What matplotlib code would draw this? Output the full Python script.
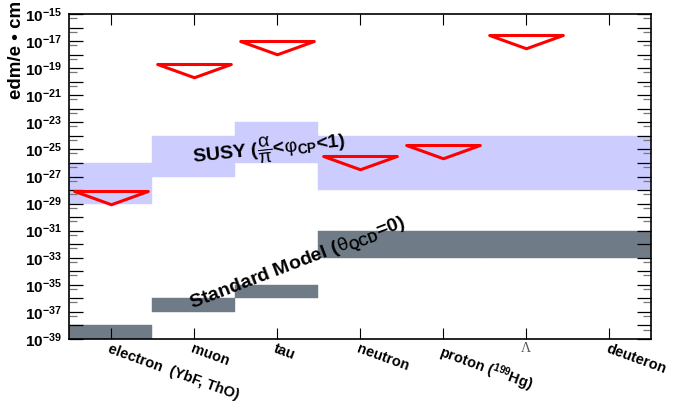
import numpy as np
import matplotlib
matplotlib.use("Agg")
import matplotlib.pyplot as plt
from matplotlib.path import Path
from matplotlib.markers import MarkerStyle
from matplotlib.ticker import FixedLocator, NullFormatter

plt.rcParams['font.family'] = ['Liberation Sans', 'DejaVu Sans']
plt.rcParams['mathtext.fontset'] = 'custom'
plt.rcParams['mathtext.rm'] = 'Liberation Sans'
plt.rcParams['mathtext.it'] = 'Liberation Sans:italic'
plt.rcParams['mathtext.bf'] = 'Liberation Sans:bold'

# data
categories = ['electron  (YbF, ThO)', 'muon', 'tau', 'neutron',
              r'proton ($\mathbf{^{199}}$Hg)', 'Λ', 'deuteron']
susy_lo = [1e-29, 1e-27, 1e-26, 1e-28, 1e-28, 1e-28, 1e-28]
susy_hi = [1e-26, 1e-24, 1e-23, 1e-24, 1e-24, 1e-24, 1e-24]
sm_lo = [1e-39, 1e-37, 1e-36, 1e-33, 1e-33, 1e-33, 1e-33]
sm_hi = [1e-38, 1e-36, 1e-35, 1e-31, 1e-31, 1e-31, 1e-31]
limits = [8.7e-29, 1.9e-19, 1e-17, 3e-26, 2e-25, 3e-17, np.nan]

x = np.arange(len(categories)) + 0.5

fig = plt.figure(figsize=(6.73, 4.01), dpi=100)
ax = fig.add_axes([69 / 673, 1 - 339 / 401, 582 / 673, 325 / 401])
ax.set_yscale('log')

# bands
ax.bar(x, np.array(susy_hi) - np.array(susy_lo), bottom=susy_lo, width=1.0,
       color='#ccccff', edgecolor='#ccccff', linewidth=0.3, zorder=1)
ax.bar(x, np.array(sm_hi) - np.array(sm_lo), bottom=sm_lo, width=1.0,
       color='#6f7b86', edgecolor='#6f7b86', linewidth=0.3, zorder=1)

# upper limits: open downward triangles, top edge at the limit
tri = Path([(-1, 0), (1, 0), (0, -0.36), (-1, 0)],
           [Path.MOVETO, Path.LINETO, Path.LINETO, Path.CLOSEPOLY])
ax.plot(x, limits, ls='none', marker=MarkerStyle(tri, joinstyle='miter'),
        markersize=53, mfc='none', mec='#ff0000', mew=2.2, zorder=3)

ax.set_xlim(0, 7)
ax.set_ylim(1e-39, 1e-15)

# x axis
ax.set_xticks(x)
ax.set_xticklabels(categories)
ax.tick_params(axis='x', which='major', direction='in', length=8, width=0.8,
               top=True, bottom=True, pad=2, labelsize=10.5)
for lab in ax.get_xticklabels():
    lab.set_rotation(-20)
    lab.set_ha('left')
    lab.set_va('top')
    lab.set_rotation_mode('anchor')
    lab.set_fontweight('bold')
lam = ax.get_xticklabels()[5]
lam.set_rotation(0)
lam.set_ha('center')
lam.set_family('Liberation Serif')
lam.set_fontweight('normal')
lam.set_fontsize(10)
lam.set_color('#555555')

# y axis
major = [10.0 ** e for e in range(-39, -14)]
ax.yaxis.set_major_locator(FixedLocator(major))
ax.yaxis.set_minor_locator(FixedLocator([5 * 10.0 ** e for e in range(-39, -15)]))
ax.yaxis.set_minor_formatter(NullFormatter())
ax.set_yticklabels([r'$\mathbf{10^{%d}}$' % e if (e % 2) else ''
                    for e in range(-39, -14)])
ax.tick_params(axis='y', which='major', direction='in', length=10, width=0.9,
               left=True, right=True, pad=5, labelsize=11)
ax.tick_params(axis='y', which='minor', direction='in', length=6, width=0.9,
               left=True, right=True, color='#777777')
ax.tick_params(axis='x', which='minor', bottom=False, top=False)

for s in ax.spines.values():
    s.set_linewidth(1.2)

fig.text(17 / 673, 1 - 1 / 401, 'edm/e • cm', rotation=90, ha='center',
         va='top', fontsize=13.5, fontweight='bold')

ax.text(1.49, 1e-26,
        r'SUSY ($\dfrac{\mathrm{\alpha}}{\mathrm{\pi}}$<$\mathrm{\varphi}_{\mathbf{CP}}$<1)',
        rotation=6, rotation_mode='anchor', ha='left', va='baseline',
        fontsize=14, fontweight='bold', zorder=4)
ax.text(1.48, 1.4e-37,
        r'Standard Model ($\mathrm{\theta}_{\mathbf{QCD}}$=0)',
        rotation=21, rotation_mode='anchor', ha='left', va='baseline',
        fontsize=14, fontweight='bold', zorder=4)

fig.savefig('out.png', dpi=100)
